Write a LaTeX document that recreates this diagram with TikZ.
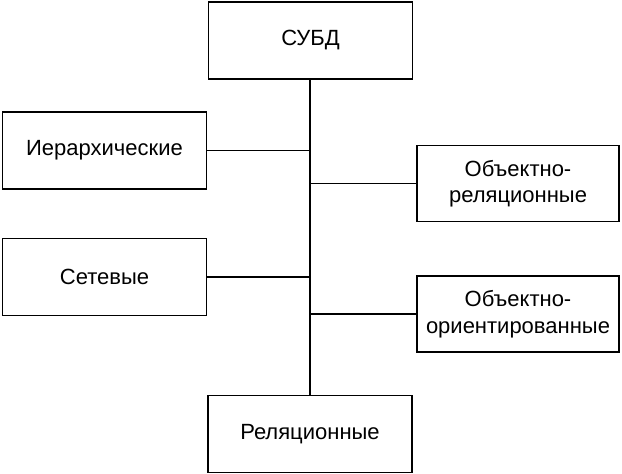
\documentclass[tikz,border=0pt]{standalone}
\usepackage{fontspec}
\setmainfont{Liberation Sans}
\begin{document}
\begin{tikzpicture}[x=1pt,y=-1pt,
  box/.style={draw,line width=1.8pt,inner sep=0pt,align=center,
    font=\fontsize{22}{26.5}\selectfont},
  wide/.style={box,minimum width=204pt,minimum height=77pt},
  right box/.style={box,minimum width=202pt,minimum height=76pt},
  conn/.style={line width=1.8pt}]
\useasboundingbox (0,0) rectangle (622,474);
\node[wide] (subd) at (310.5,40.5) {СУБД};
\node[wide] (hier) at (104.5,150.5) {Иерархические};
\node[wide] (net) at (104.5,277) {Сетевые};
\node[right box] (objrel) at (518,183.5) {Объектно-\\реляционные};
\node[right box] (objor) at (518,314) {Объектно-\\ориентированные};
\node[wide] (rel) at (310,434) {Реляционные};
\coordinate (tTop) at (310,0);
\draw[conn] (subd.south -| tTop) -- (rel.north -| tTop);
\coordinate (jh) at (hier.east -| tTop);
\coordinate (jn) at (net.east -| tTop);
\coordinate (jr) at (objrel.west -| tTop);
\coordinate (jo) at (objor.west -| tTop);
\draw[conn] (hier.east) -- (jh);
\draw[conn] (net.east) -- (jn);
\draw[conn] (objrel.west) -- (jr);
\draw[conn] (objor.west) -- (jo);
\end{tikzpicture}
\end{document}
